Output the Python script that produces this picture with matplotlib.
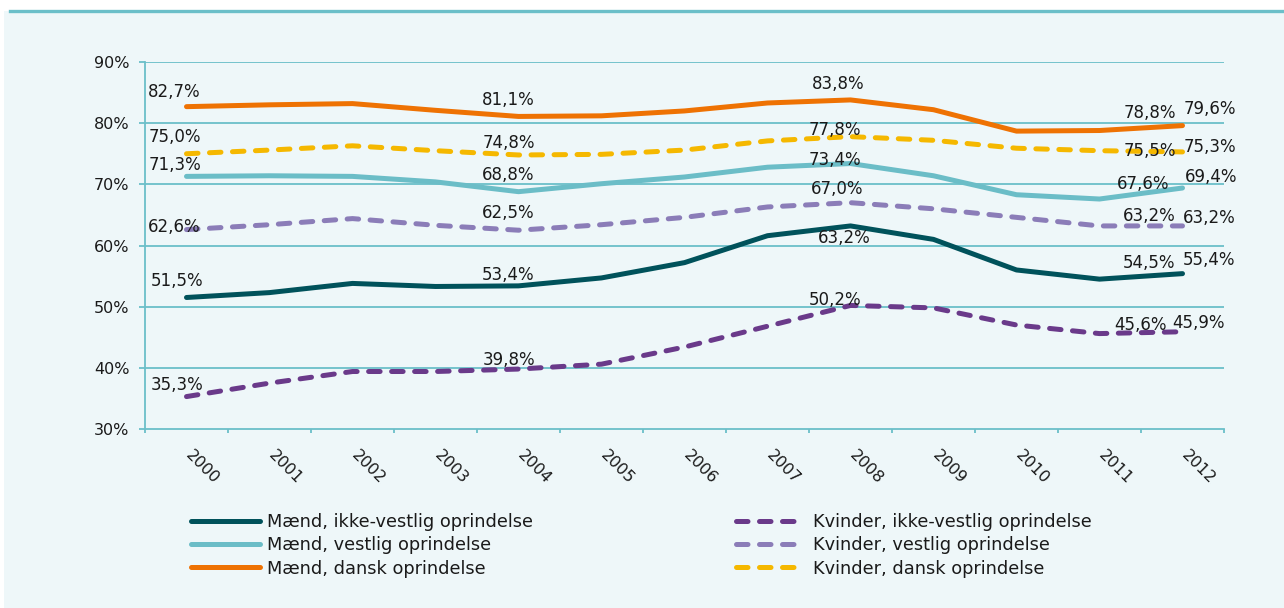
import matplotlib
matplotlib.use("Agg")
import matplotlib.pyplot as plt
from matplotlib.lines import Line2D
from matplotlib.patches import Rectangle
import matplotlib.transforms as mtransforms

plt.rcParams["font.family"] = ["DejaVu Sans"]

years = ["2000", "2001", "2002", "2003", "2004", "2005", "2006",
         "2007", "2008", "2009", "2010", "2011", "2012"]

maend_ikke_vestlig = [51.5, 52.3, 53.8, 53.3, 53.4, 54.7, 57.2, 61.6, 63.2, 61.0, 56.0, 54.5, 55.4]
maend_vestlig = [71.3, 71.4, 71.3, 70.4, 68.8, 70.1, 71.2, 72.8, 73.4, 71.4, 68.3, 67.6, 69.4]
maend_dansk = [82.7, 83.0, 83.2, 82.1, 81.1, 81.2, 82.0, 83.3, 83.8, 82.2, 78.7, 78.8, 79.6]
kvinder_ikke_vestlig = [35.3, 37.5, 39.4, 39.4, 39.8, 40.6, 43.4, 46.8, 50.2, 49.8, 47.0, 45.6, 45.9]
kvinder_vestlig = [62.6, 63.4, 64.4, 63.3, 62.5, 63.4, 64.6, 66.3, 67.0, 66.0, 64.6, 63.2, 63.2]
kvinder_dansk = [75.0, 75.6, 76.3, 75.5, 74.8, 74.9, 75.6, 77.1, 77.8, 77.2, 75.9, 75.5, 75.3]

series_names = ["Mænd, ikke-vestlig oprindelse", "Mænd, vestlig oprindelse",
                "Mænd, dansk oprindelse", "Kvinder, ikke-vestlig oprindelse",
                "Kvinder, vestlig oprindelse", "Kvinder, dansk oprindelse"]
series_values = [maend_ikke_vestlig, maend_vestlig, maend_dansk,
                 kvinder_ikke_vestlig, kvinder_vestlig, kvinder_dansk]

yticks = [30, 40, 50, 60, 70, 80, 90]
label_idx = [0, 4, 8, 11, 12]

# styling
colors = ["#00525B", "#6BBDC7", "#EE7203", "#6A3A8A", "#8B7DB8", "#F5B800"]
dashed = [False, False, False, True, True, True]
# label offsets (pixels) relative to the data point, for indices in label_idx
label_offsets = [
    [(-9.5, 16.5), (-10, 11), (-6, -12), (50, 16), (27, 14)],
    [(-12, 11), (-10, 17), (-16, 4), (44, 15), (29, 11)],
    [(-12, 15), (-10, 16), (-12, 16), (50, 18), (27, 17)],
    [(-9.5, 11.5), (-9, 9), (-15, 5), (41, 9), (16, 9)],
    [(-12, 3), (-10, 17), (-13, 14), (50, 10), (27, 8)],
    [(-12, 17), (-10, 11.5), (-16, 7), (50, 0), (27, 5)],
]

W, H = 1284, 608
fig = plt.figure(figsize=(W / 100, H / 100), dpi=100)
fig.patch.set_facecolor("white")

bg = "#EEF7F9"
teal = "#6BBFC9"
fig.patches.append(Rectangle((4 / W, 0), 1 - 4 / W, 1 - 11 / H, transform=fig.transFigure,
                             facecolor=bg, edgecolor="none", zorder=-10))
fig.lines.append(Line2D([10 / W, 1], [1 - 10.5 / H, 1 - 10.5 / H], transform=fig.transFigure,
                        color=teal, lw=2.4, zorder=-5))

ax = fig.add_axes([145 / W, 1 - 429 / H, (1224 - 145) / W, (429 - 62) / H])
ax.set_zorder(5)
ax.set_facecolor("none")
ax.set_xlim(-0.5, len(years) - 0.5)
ax.set_ylim(30, 90)

for y in yticks[1:]:
    ax.axhline(y, color=teal, lw=1.3, zorder=1)
for s in ["top", "right"]:
    ax.spines[s].set_visible(False)
for s in ["left", "bottom"]:
    ax.spines[s].set_color(teal)
    ax.spines[s].set_linewidth(1.3)

ax.set_yticks(yticks)
ax.set_yticklabels([f"{v}%" for v in yticks], fontsize=11.5, color="#1a1a1a")
ax.tick_params(axis="y", length=4.3, width=1.3, color=teal, pad=7)

x = list(range(len(years)))
ax.set_xticks(x)
ax.set_xticklabels(years, rotation=-45, ha="left", va="top", fontsize=11.5, color="#1a1a1a")
ax.set_xticks([i - 0.5 for i in range(len(years) + 1)], minor=True)
ax.tick_params(axis="x", which="major", length=0, pad=13)
ax.tick_params(axis="x", which="minor", length=3, width=1.3, color=teal)
offset = mtransforms.ScaledTranslation(-4 / 100, 0, fig.dpi_scale_trans)
for lab in ax.get_xticklabels():
    lab.set_transform(lab.get_transform() + offset)

handles = []
for name, vals, c, d, offs in zip(series_names, series_values, colors, dashed, label_offsets):
    if d:
        ln, = ax.plot(x, vals, color=c, lw=3.6, dashes=(2.3, 2.3),
                      dash_capstyle="round", solid_capstyle="round", label=name, zorder=3)
    else:
        ln, = ax.plot(x, vals, color=c, lw=3.6, solid_capstyle="round", label=name, zorder=3)
    handles.append(ln)
    for i, (dx, dy) in zip(label_idx, offs):
        txt = f"{vals[i]:.1f}".replace(".", ",") + "%"
        ax.annotate(txt, (x[i], vals[i]), xytext=(dx, dy), textcoords="offset pixels",
                    ha="center", va="center", fontsize=12, color="#1a1a1a", zorder=4)

leg = fig.legend(handles=handles, loc="upper left", bbox_to_anchor=(191 / W, 1 - 513 / H),
                 ncol=2, frameon=False, fontsize=12.8, handlelength=3.9, handletextpad=0.4,
                 columnspacing=11.4, labelspacing=0.3, borderpad=0, borderaxespad=0)
for t in leg.get_texts():
    t.set_color("#1a1a1a")

fig.savefig("out.png", dpi=100, facecolor=fig.get_facecolor())
